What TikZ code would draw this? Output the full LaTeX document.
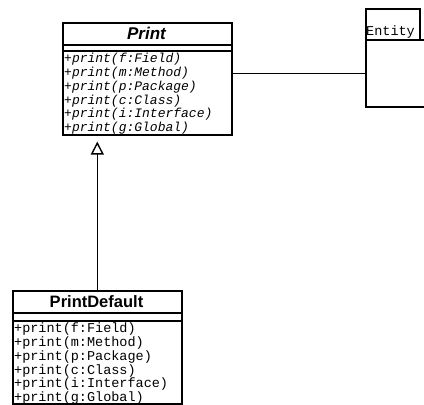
\documentclass[tikz,border=0pt]{standalone}
\usepackage{fontspec}
\setmainfont{Liberation Sans}
\newfontfamily\umlmono{Liberation Mono}
\usetikzlibrary{arrows.meta}
\begin{document}
\begin{tikzpicture}[x=1pt,y=-1pt,
  classbox/.style={draw, line width=1.6pt, anchor=north west, inner sep=0pt},
  sepline/.style={line width=1.3pt},
  classname/.style={font=\fontsize{16.5}{16.5}\selectfont\bfseries, inner sep=0pt},
  ops/.style={align=left, anchor=north west, inner sep=0pt},
  assoc/.style={line width=1.5pt},
  inherit/.style={line width=1.5pt, shorten >=6pt,
    -{Triangle[open, length=13pt, width=13pt, line width=1.4pt]}}
]
\clip (0,0) rectangle (424,405);

% abstract class Print
\node[classbox, minimum width=169pt, minimum height=112pt] (print) at (62,22) {};
\draw[sepline] (62,45) -- (231,45);
\draw[sepline] (62,51) -- (231,51);
\node[classname, font=\fontsize{17}{17}\selectfont\bfseries\itshape] (printname) at (146.5,33.5) {Print};
\node[ops, font=\umlmono\itshape\fontsize{13}{13.8}\selectfont] (printops) at (64,53)
  {+print(f:Field)\\+print(m:Method)\\+print(p:Package)\\+print(c:Class)\\+print(i:Interface)\\+print(g:Global)};

% class Entity
\node[classbox, minimum width=54pt, minimum height=31pt] (entitytab) at (365,8) {};
\node[classbox, minimum width=80pt, minimum height=67pt] (entity) at (365,39) {};
\node[anchor=base west, font=\umlmono\fontsize{13.5}{13.5}\selectfont, inner sep=0pt] (entityname) at (366,35) {Entity};

% class PrintDefault
\node[classbox, minimum width=169pt, minimum height=113pt] (pd) at (12,290) {};
\draw[sepline] (12,313) -- (181,313);
\draw[sepline] (12,321) -- (181,321);
\node[classname] (pdname) at (96.5,301.5) {PrintDefault};
\node[ops, font=\umlmono\fontsize{13.5}{13.7}\selectfont] (pdops) at (14,323)
  {+print(f:Field)\\+print(m:Method)\\+print(p:Package)\\+print(c:Class)\\+print(i:Interface)\\+print(g:Global)};

% association and generalisation
\draw[assoc] (entity.west) -- (entity.west -| print.east);
\draw[inherit] (pd.north) -- (pd.north |- print.south);
\end{tikzpicture}
\end{document}
